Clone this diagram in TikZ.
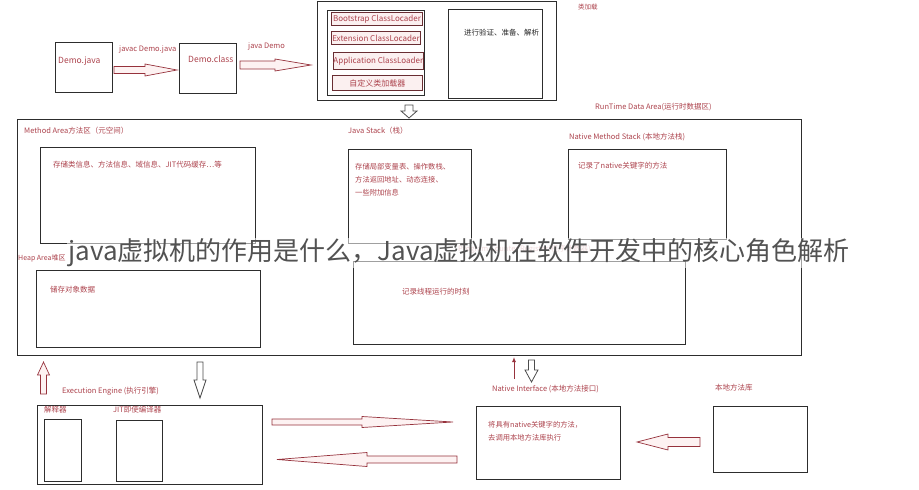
\documentclass[tikz,border=0pt]{standalone}
\usepackage{fontspec}
\setmainfont{Noto Sans CJK SC}
\usetikzlibrary{arrows.meta}

\definecolor{jvmred}{RGB}{172,66,76}
\definecolor{arrred}{RGB}{150,50,60}
\definecolor{arrpink}{RGB}{253,242,242}
\definecolor{boxline}{RGB}{45,45,45}
\definecolor{ldrline}{RGB}{105,45,50}
\definecolor{ldrfill}{RGB}{251,240,240}

% hollow block arrows: [style]{tail}{neck}{tip}{centre}{shaft half}{head half}
\newcommand{\blockh}[7][]{\draw[#1] (#2,{#5-#6}) -- (#3,{#5-#6}) -- (#3,{#5-#7}) -- (#4,#5) -- (#3,{#5+#7}) -- (#3,{#5+#6}) -- (#2,{#5+#6}) -- cycle;}
\newcommand{\blockv}[7][]{\draw[#1] ({#5-#6},#2) -- ({#5-#6},#3) -- ({#5-#7},#3) -- (#5,#4) -- ({#5+#7},#3) -- ({#5+#6},#3) -- ({#5+#6},#2) -- cycle;}

\tikzset{
  box/.style={draw=boxline, line width=1.1pt, anchor=north west, inner sep=0pt},
  ldr/.style={draw=ldrline, fill=ldrfill, line width=0.9pt, anchor=north west, inner sep=0pt,
    text=jvmred, font=\fontsize{8}{9}\selectfont},
  lbl/.style={text=jvmred, font=\fontsize{7.5}{9}\selectfont, inner sep=0pt, anchor=west},
  redarr/.style={draw=arrred, fill=arrpink, line width=0.7pt},
  grayarr/.style={draw=black!70, fill=white, line width=0.8pt}
}

\begin{document}
\begin{tikzpicture}[x=1pt, y=-1pt]
  \useasboundingbox (0,0) rectangle (919,490);

  % compile
  \node[box, minimum width=57, minimum height=50] (demojava) at (55,42) {};
  \node[lbl, font=\fontsize{8.5}{9}\selectfont] (demojavatxt) at (58,61) {Demo.java};
  \blockh[redarr]{114}{145}{177}{70}{3.5}{6}
  \node[lbl] (javactxt) at (119,49) {javac Demo.java};
  \node[box, minimum width=57, minimum height=50] (democlass) at (179,43) {};
  \node[lbl, font=\fontsize{8.5}{9}\selectfont] (democlasstxt) at (188,59) {Demo.class};
  \blockh[redarr]{240}{275}{311}{65}{4}{6}
  \node[lbl] (javatxt) at (248,46) {java Demo};

  % class loader
  \node[box, minimum width=239, minimum height=99] (loader) at (317,1) {};
  \node[box, line width=1.4pt, minimum width=97, minimum height=85] (loaders) at (327,10) {};
  \node[ldr, minimum width=91, minimum height=13] (boot) at (331,12) {Bootstrap ClassLocader};
  \node[ldr, minimum width=89, minimum height=13] (ext) at (331,31) {Extension ClassLocader};
  \node[ldr, minimum width=89, minimum height=17] (app) at (333,52) {Application ClassLoader};
  \node[ldr, minimum width=90, minimum height=15] (custom) at (332,75) {自定义类加载器};
  \node[box, minimum width=94, minimum height=89] (link) at (448,9) {};
  \node[lbl, text=black!85] (linktxt) at (464,33) {进行验证、准备、解析};
  \node[lbl, font=\fontsize{6.5}{8}\selectfont] (loadtxt) at (578,7) {类加载};
  \blockv[grayarr]{105}{111}{118}{409}{4}{8}

  % runtime data area
  \node[lbl] (rdatxt) at (595,107) {RunTime Data Area(运行时数据区)};
  \node[box, minimum width=784, minimum height=236] (rda) at (17,119) {};

  \node[lbl] (methodtxt) at (24,131) {Method Area方法区（元空间）};
  \node[box, minimum width=215, minimum height=96] (method) at (40,147) {};
  \node[lbl] (methodinfo) at (53,165) {存储类信息、方法信息、域信息、JIT代码缓存…等};

  \node[lbl] (stacktxt) at (348,131) {Java Stack（栈）};
  \node[box, minimum width=123, minimum height=94] (stack) at (348,149) {};
  \node[lbl, anchor=north west, align=left, font=\fontsize{7.3}{13}\selectfont] (stackinfo) at (355,163)
    {存储局部变量表、操作数栈、\\方法返回地址、动态连接、\\一些附加信息};

  \node[lbl] (nativetxt) at (569,137) {Native Method Stack (本地方法栈)};
  \node[box, minimum width=158, minimum height=90] (native) at (568,149) {};
  \node[lbl] (nativeinfo) at (578,166) {记录了native关键字的方法};

  \node[lbl, font=\fontsize{7}{8}\selectfont] (heaptxt) at (18,258) {Heap Area堆区};
  \node[box, minimum width=224, minimum height=77] (heap) at (36,270) {};
  \node[lbl] (heapinfo) at (50,290) {储存对象数据};

  \node[lbl, text=jvmred!45] (pctxt) at (458,249) {Program Counter Register(程序计数器)};
  \node[box, minimum width=332, minimum height=83] (pc) at (353,261) {};
  \node[lbl] (pcinfo) at (402,292) {记录线程运行的时刻};

  \node[fill=white, fill opacity=0.55, text opacity=1, text=black!68, inner sep=1pt,
    font=\fontsize{26}{28}\selectfont] (title) at (459,253)
    {java虚拟机的作用是什么，Java虚拟机在软件开发中的核心角色解析};

  % execution engine
  \blockv[redarr]{394}{375}{362}{43.5}{3}{6}
  \blockv[grayarr]{362}{380}{398}{200}{3}{6}
  \node[lbl] (enginetxt) at (62,391) {Execution Engine (执行引擎)};
  \node[box, minimum width=225, minimum height=79] (engine) at (37,405) {};
  \node[lbl] (interptxt) at (44,410) {解释器};
  \node[box, minimum width=37, minimum height=62] (interp) at (44,419) {};
  \node[lbl] (jittxt) at (113,410) {JIT即使编译器};
  \node[box, minimum width=46, minimum height=61] (jit) at (116,420) {};
  \blockh[redarr]{272}{362}{453}{422}{3}{5.5}
  \blockh[redarr]{457}{367}{277}{459.5}{3.5}{7}

  % native interface
  \coordinate (niup) at (514,357);
  \coordinate (nidown) at (514,379);
  \draw[arrred, line width=1pt, -{Latex[length=5pt,width=4pt]}] (nidown) -- (niup);
  \blockv[grayarr]{360}{370}{382}{531.5}{3}{6.5}
  \node[lbl] (nitxt) at (492,389) {Native Interface (本地方法接口)};
  \node[box, minimum width=144, minimum height=73] (ni) at (476,406) {};
  \node[lbl, anchor=north west, align=left, font=\fontsize{7.3}{13}\selectfont] (niinfo) at (488,421)
    {将具有native关键字的方法，\\去调用本地方法库执行};
  \blockh[redarr]{700}{668}{637}{442}{4.5}{8}
  \node[lbl] (libtxt) at (715,388) {本地方法库};
  \node[box, minimum width=94, minimum height=66] (lib) at (713,406) {};
\end{tikzpicture}
\end{document}
